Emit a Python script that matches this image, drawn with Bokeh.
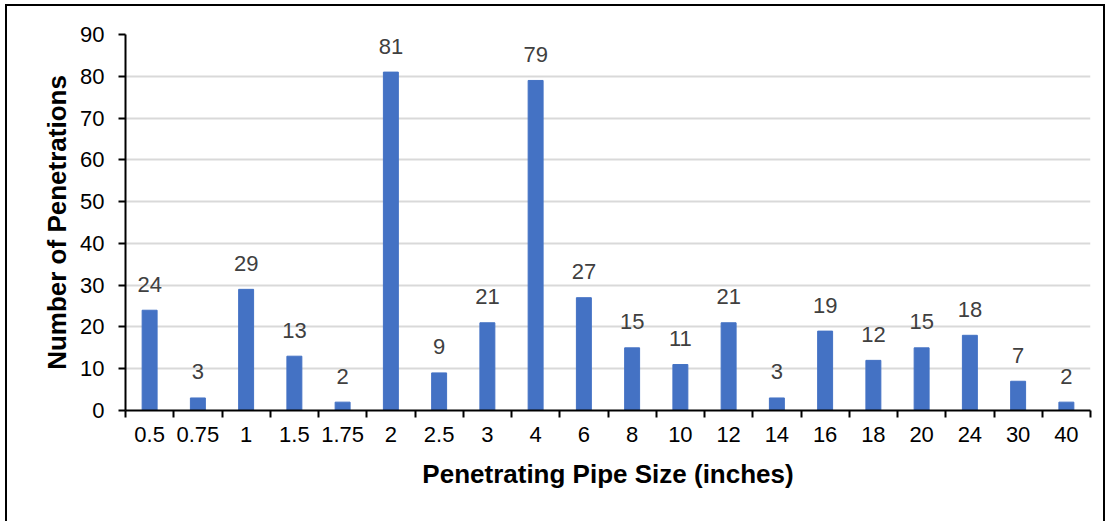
from bokeh.plotting import figure
from bokeh.models import ColumnDataSource, FixedTicker, Range1d
from bokeh.core.properties import value
from bokeh.embed import file_html
from bokeh.resources import INLINE

sizes = ["0.5", "0.75", "1", "1.5", "1.75", "2", "2.5", "3", "4", "6", "8", "10",
         "12", "14", "16", "18", "20", "24", "30", "40"]
counts = [24, 3, 29, 13, 2, 81, 9, 21, 79, 27, 15, 11, 21, 3, 19, 12, 15, 18, 7, 2]
y_ticks = [0, 10, 20, 30, 40, 50, 60, 70, 80, 90]

n = len(sizes)
xc = [i + 0.5 for i in range(n)]
src = ColumnDataSource(dict(x=xc, top=counts, lbl=[str(c) for c in counts]))

font = "Liberation Sans"

p = figure(width=1100, height=520, output_backend="svg", toolbar_location=None,
           x_range=Range1d(0, n), y_range=Range1d(0, 90),
           min_border_left=118, min_border_right=17, min_border_top=28, min_border_bottom=116)
p.outline_line_color = None
p.border_fill_color = "white"

p.vbar(x="x", top="top", width=0.31, source=src, color="#4472C4")
p.text(x="x", y="top", text="lbl", source=src, text_align="center",
       text_baseline="alphabetic", y_offset=-26, text_font_size="22px",
       text_color="#404040", text_font=value(font))

xa = p.xaxis[0]
xa.ticker = FixedTicker(ticks=xc, minor_ticks=list(range(n + 1)))
xa.major_label_overrides = {x: s for x, s in zip(xc, sizes)}
xa.major_tick_line_color = None
xa.major_tick_out = 6
xa.major_tick_in = 0
xa.minor_tick_line_color = "black"
xa.minor_tick_line_width = 2
xa.minor_tick_out = 7
xa.minor_tick_in = 0
xa.major_label_standoff = 9
xa.axis_label = "Penetrating Pipe Size (inches)"
xa.axis_label_standoff = 14

ya = p.yaxis[0]
ya.ticker = FixedTicker(ticks=y_ticks)
ya.minor_tick_line_color = None
ya.major_tick_in = 0
ya.major_tick_out = 7
ya.major_tick_line_width = 2
ya.major_label_standoff = 14
ya.axis_label = "Number of Penetrations"
ya.axis_label_standoff = 5

for ax in (xa, ya):
    ax.axis_line_color = "black"
    ax.axis_line_width = 2
    ax.major_label_text_font = font
    ax.major_label_text_font_size = "22px"
    ax.major_label_text_color = "black"
    ax.axis_label_text_font = font
    ax.axis_label_text_font_size = "26px"
    ax.axis_label_text_font_style = "bold"
    ax.axis_label_text_color = "black"

p.xgrid.grid_line_color = None
p.ygrid.ticker = FixedTicker(ticks=y_ticks[1:])
p.ygrid.grid_line_color = "#d9d9d9"
p.ygrid.grid_line_width = 2

p.styles = {"border": "2px solid black", "margin-left": "5px", "margin-top": "4px"}

open("out.html", "w").write(file_html(p, INLINE))
